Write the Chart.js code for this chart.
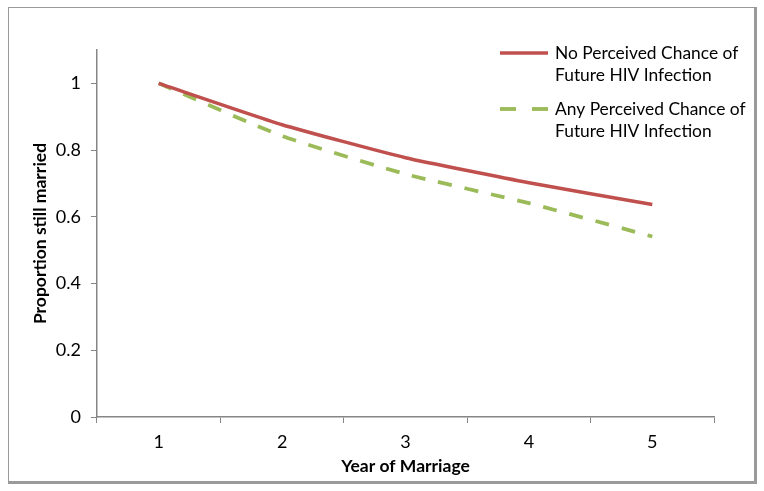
<!DOCTYPE html>
<html>
<head>
<meta charset="utf-8">
<script src="https://cdn.jsdelivr.net/npm/chart.js@4"></script>
<style>
  body { margin: 0; background: #fff; }
  #wrap { position: absolute; left: 0; top: 0; width: 764px; height: 491px; }
</style>
</head>
<body>
<div id="wrap"><canvas id="survivalChart" width="764" height="491"></canvas></div>
<script>
// dados
const years = ['1', '2', '3', '4', '5'];
const noChance = [1, 0.876, 0.777, 0.702, 0.637];
const anyChance = [1, 0.842, 0.728, 0.641, 0.541];
const legendLines = [
    ['No Perceived Chance of', 'Future HIV Infection'],
    ['Any Perceived Chance of', 'Future HIV Infection']
];

const fontFamily = 'Lato, "Open Sans", sans-serif';
const axisGray = '#868686';

// moldura e legenda desenhadas à mão
const framePlugin = {
    id: 'frame',
    beforeDraw(chart) {
        const ctx = chart.ctx;
        ctx.save();
        ctx.fillStyle = '#fff';
        ctx.fillRect(0, 0, chart.width, chart.height);
        ctx.fillStyle = '#9a9a9a';
        ctx.fillRect(8, 7, 749, 1);
        ctx.fillRect(8, 7, 1, 477);
        ctx.fillRect(754, 7, 3, 477);
        ctx.fillRect(8, 481, 749, 3);
        ctx.restore();
    },
    afterDraw(chart) {
        const ctx = chart.ctx;
        ctx.save();
        ctx.font = '17.4px ' + fontFamily;
        ctx.textBaseline = 'middle';
        ctx.fillStyle = '#000';
        const tops = [53, 109];
        chart.data.datasets.forEach((ds, i) => {
            const y = tops[i];
            ctx.strokeStyle = ds.borderColor;
            ctx.lineWidth = ds.borderWidth;
            ctx.setLineDash(i === 0 ? [] : [16, 16]);
            ctx.beginPath();
            ctx.moveTo(500, y);
            ctx.lineTo(548, y);
            ctx.stroke();
            legendLines[i].forEach((t, j) => ctx.fillText(t, 555, y + j * 22));
        });
        ctx.restore();
    }
};

new Chart(document.getElementById('survivalChart'), {
    type: 'line',
    data: {
        labels: years,
        datasets: [{
            label: 'No Perceived Chance of Future HIV Infection',
            data: noChance,
            borderColor: '#C0504D',
            borderWidth: 3.5,
            tension: 0.15,
            pointRadius: 0
        }, {
            label: 'Any Perceived Chance of Future HIV Infection',
            data: anyChance,
            borderColor: '#9BBB59',
            borderWidth: 3.8,
            borderDash: [14, 13],
            tension: 0.15,
            pointRadius: 0
        }]
    },
    options: {
        responsive: false,
        animation: false,
        layout: { padding: { left: 26, right: 50, top: 50, bottom: 10 } },
        plugins: {
            legend: { display: false },
            tooltip: { enabled: false }
        },
        scales: {
            x: {
                offset: true,
                grid: { offset: true, drawOnChartArea: false, tickLength: 6, color: axisGray },
                border: { color: axisGray, width: 1.5 },
                ticks: { color: '#000', padding: 8, font: { family: fontFamily, size: 18 } },
                title: {
                    display: true,
                    text: 'Year of Marriage',
                    color: '#000',
                    font: { family: fontFamily, size: 17.5, weight: 'bold' }
                },
                afterFit: s => { s.height = 64; }
            },
            y: {
                min: 0,
                max: 1.1,
                grid: { drawOnChartArea: false, tickLength: 6, color: axisGray },
                border: { color: axisGray, width: 1.5 },
                ticks: {
                    stepSize: 0.2,
                    color: '#000',
                    padding: 10,
                    font: { family: fontFamily, size: 18 },
                    callback: v => String(Math.round(v * 10) / 10)
                },
                afterBuildTicks: s => { s.ticks = s.ticks.filter(t => t.value <= 1.0001); },
                title: {
                    display: true,
                    text: 'Proportion still married',
                    color: '#000',
                    font: { family: fontFamily, size: 17.5, weight: 'bold' }
                },
                afterFit: s => { s.width = 71; }
            }
        }
    },
    plugins: [framePlugin]
});
</script>
</body>
</html>
